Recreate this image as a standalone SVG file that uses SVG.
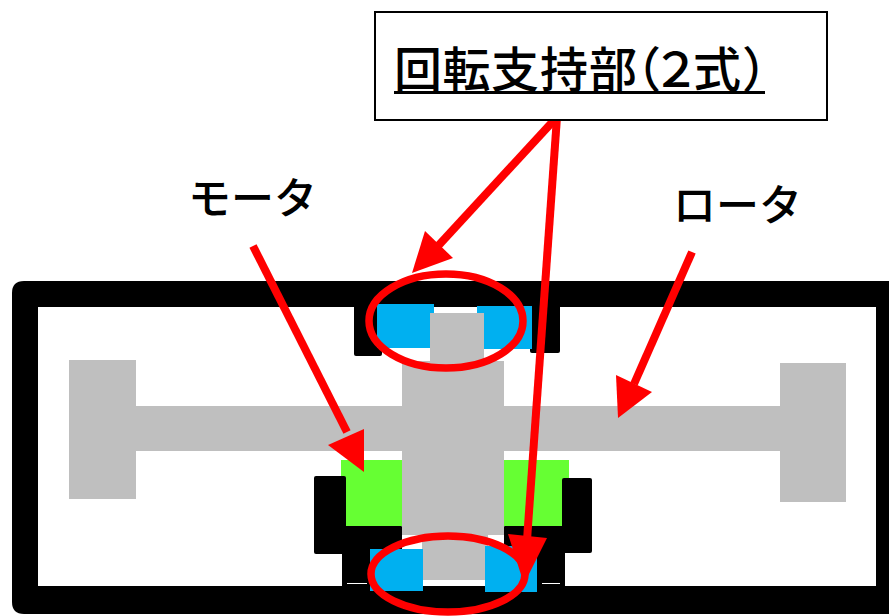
<svg xmlns="http://www.w3.org/2000/svg" width="889" height="616" viewBox="0 0 889 616">
<style>
.k{fill:#000}.g{fill:#bfbfbf}.b{fill:#00b0f0}.l{fill:#66ff33}
.t{font-family:"Noto Sans CJK JP","Liberation Sans",sans-serif;fill:#000;font-weight:500}
.a{stroke:#f00;stroke-width:8;fill:none}.h{fill:#f00}
.e{fill:none;stroke:#f00;stroke-width:7.5}
</style>
<rect width="889" height="616" fill="#fff"/>
<g id="frame">
<path class="k" d="M889 281H24Q12 281 12 293V602Q12 614 24 614H889V586H38V307H876V586H889Z"/>
<rect class="k" x="343" y="586" width="29" height="28" rx="3"/>
</g>
<g id="rotor">
<rect class="g" x="69" y="360" width="67" height="139"/>
<rect class="g" x="780" y="363" width="66" height="139"/>
<rect class="g" x="136" y="406" width="644" height="45"/>
<rect class="g" x="402" y="361" width="102" height="174"/>
<rect class="g" x="422" y="535" width="66" height="45"/>
</g>
<g id="motor">
<rect class="l" x="341" y="460" width="61" height="66"/>
<rect class="l" x="504" y="460" width="65" height="66"/>
<rect class="k" x="314" y="476" width="32" height="78" rx="2"/>
<rect class="k" x="342" y="526" width="60" height="28" rx="1"/>
<rect class="k" x="342" y="550" width="30" height="37"/>
<rect class="k" x="562" y="478" width="30" height="75" rx="2"/>
<rect class="k" x="504" y="526" width="60" height="27" rx="1"/>
<rect class="k" x="537" y="550" width="28" height="37"/>
<rect x="347" y="583" width="20" height="1" fill="#fff"/>
<rect x="542" y="583" width="18" height="1" fill="#fff"/>
</g>
<g id="bearing-top">
<rect class="k" x="354" y="305" width="28" height="51" rx="2"/>
<rect class="k" x="530" y="305" width="30" height="48" rx="2"/>
<rect class="b" x="377" y="304" width="57" height="44"/>
<rect class="b" x="477" y="306" width="55" height="43"/>
<rect class="g" x="430" y="313" width="54" height="50"/>
</g>
<g id="bearing-bottom">
<rect class="b" x="370" y="549" width="53" height="42"/>
<rect class="b" x="485" y="546" width="52" height="46"/>
</g>
<g id="connectors">
<path class="a" d="M557 117L438 246"/>
<path class="h" d="M412 273L425 231L453 258Z"/>
<path class="a" d="M557 117L527 540"/>
<path class="h" d="M508 534L547 538L524 584Z"/>
<path class="a" d="M253 246L347 432"/>
<path class="h" d="M328 445L364 429L364 472Z"/>
<path class="a" d="M692 252L634 384"/>
<path class="h" d="M616 375L652 392L618 418Z"/>
</g>
<g id="ellipse-top"><ellipse class="e" cx="446" cy="321" rx="77" ry="47"/></g>
<g id="ellipse-bottom"><ellipse class="e" cx="448" cy="574" rx="77" ry="38"/></g>
<g id="label-box">
<rect x="375" y="12" width="452" height="108" fill="#fff" stroke="#000" stroke-width="2"/>
<text class="t" y="87" font-size="48" x="394 442.5 491 540 589 613 652 693 742">回転支持部（２式）</text>
<rect x="394" y="91" width="371" height="3" fill="#000"/>
</g>
<g id="label-motor"><text class="t" x="188" y="214" font-size="43">モータ</text></g>
<g id="label-rotor"><text class="t" x="673" y="221" font-size="43">ロータ</text></g>
</svg>
